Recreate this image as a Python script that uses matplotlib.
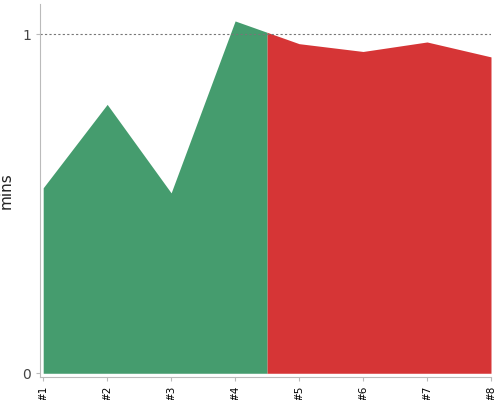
import numpy as np
import matplotlib
matplotlib.use('Agg')
import matplotlib.pyplot as plt

labels = ['#1', '#2', '#3', '#4', '#5', '#6', '#7', '#8']
mins = [0.547, 0.793, 0.532, 1.039, 0.972, 0.949, 0.977, 0.933]
split_at = 4.5
target = 1

x = np.arange(1, len(labels) + 1, dtype=float)
y = np.array(mins)

# split the area where the colour changes
ys = np.interp(split_at, x, y)
left = x <= split_at
xg = np.append(x[left], split_at)
yg = np.append(y[left], ys)
xr = np.insert(x[~left], 0, split_at)
yr = np.insert(y[~left], 0, ys)

fig = plt.figure(figsize=(5, 4), dpi=100)
ax = fig.add_axes([0.08, 0.0575, 0.902, 0.9325])
ax.fill_between(xg, 0, yg, color='#459c6e', lw=0)
ax.fill_between(xr, 0, yr, color='#d63536', lw=0)
ax.axhline(target, color='#777777', lw=0.8, ls=(0, (2, 2)))

ax.set_xlim(0.95, 8)
ax.set_ylim(-0.011, 1.089)
ax.set_xticks(x)
ax.set_xticklabels(labels, rotation=90, fontsize=7.5)
ax.set_yticks([0, 1])
ax.set_yticklabels(['0', '1'], fontsize=10, color='#444444')
ax.set_ylabel('mins', fontsize=11, color='#222222')
ax.yaxis.set_label_coords(-0.058, 0.5)
for s in ['top', 'right']:
    ax.spines[s].set_visible(False)
for s in ['left', 'bottom']:
    ax.spines[s].set_color('#bbbbbb')
ax.tick_params(axis='both', color='#bbbbbb', length=3)

fig.savefig('out.png', dpi=100)
